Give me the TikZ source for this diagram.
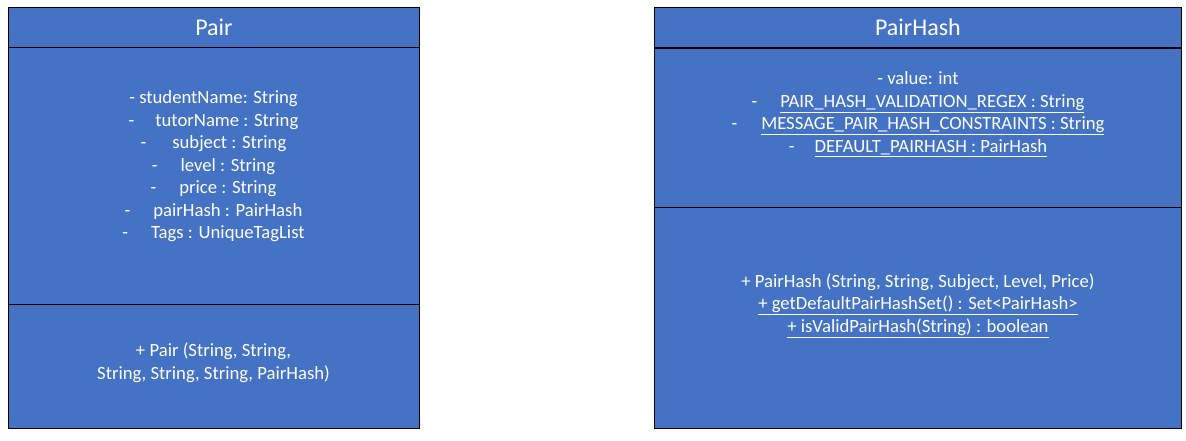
\documentclass[tikz,border=0pt]{standalone}
\usepackage{fontspec}
\setmainfont{Carlito}
\definecolor{umlblue}{HTML}{4472C4}
\tikzset{
  compart/.style={draw=black, fill=umlblue, line width=0.8pt, rectangle, inner sep=0pt, anchor=north west},
  titletext/.style={text=white, font=\fontsize{24}{29}\selectfont},
  bodytext/.style={text=white, font=\fontsize{18.7}{22.5}\selectfont, align=center, inner sep=0pt},
}
\newcommand{\dsh}[1]{-\hspace{#1pt}}
\begin{document}
\begin{tikzpicture}[x=1pt,y=-1pt]
\useasboundingbox (0,0) rectangle (1186,440);
% Pair class
\node[compart, titletext, minimum width=411pt, minimum height=40pt] (pairTitle) at (8,7) {Pair};
\node[compart, minimum width=411pt, minimum height=257pt] (pairAttr) at (8,47) {};
\node[compart, minimum width=411pt, minimum height=124pt] (pairMeth) at (8,304) {};
\node[bodytext] (pairAttrText) at (213.5,166.5) {- studentName: String\\
\dsh{21}tutorName : String\\
\dsh{26}subject : String\\
\dsh{23}level : String\\
\dsh{23}price : String\\
\dsh{23}pairHash : PairHash\\
\dsh{23}Tags : UniqueTagList};
\node[bodytext] (pairMethText) at (213.5,363) {+ Pair (String, String,\\
String, String, String, PairHash)};
% PairHash class
\node[compart, titletext, minimum width=527pt, minimum height=40pt] (phTitle) at (654,7) {PairHash};
\node[compart, minimum width=527pt, minimum height=160pt] (phAttr) at (654,47) {};
\node[compart, minimum width=527pt, minimum height=221pt] (phMeth) at (654,207) {};
\draw[line width=1.6pt] (phTitle.south west) -- (phTitle.south east);
\node[bodytext] (phAttrText) at (918,114.5) {- value: int\\
\dsh{23}\underline{PAIR\_HASH\_VALIDATION\_REGEX : String}\\
\dsh{24}\underline{MESSAGE\_PAIR\_HASH\_CONSTRAINTS : String}\\
\dsh{20}\underline{DEFAULT\_PAIRHASH : PairHash}};
\node[bodytext] (phMethText) at (918,305.5) {+ PairHash (String, String, Subject, Level, Price)\\
\underline{+ getDefaultPairHashSet() : Set\textless PairHash\textgreater}\\
\underline{+ isValidPairHash(String) : boolean}};
\end{tikzpicture}
\end{document}
